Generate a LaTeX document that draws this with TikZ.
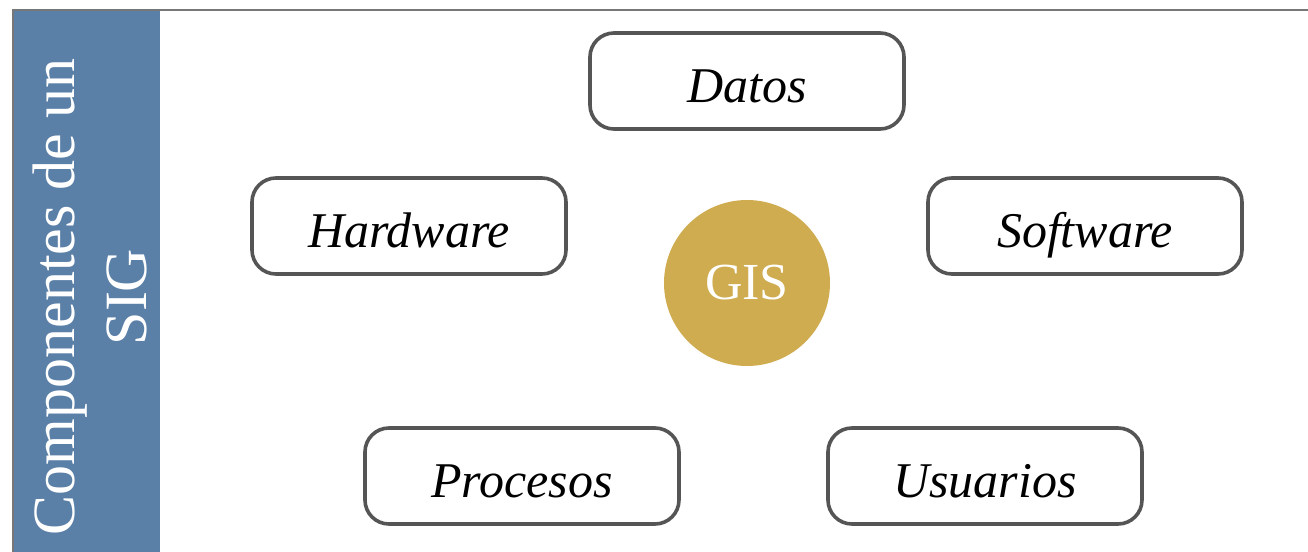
\documentclass[tikz,border=0pt]{standalone}
\usepackage{fontspec}
\setmainfont{Liberation Serif}
\usepackage{xcolor}

\definecolor{barblue}{RGB}{91,128,168}
\definecolor{gisgold}{RGB}{207,172,80}
\definecolor{edgegray}{RGB}{85,85,85}

\begin{document}
\begin{tikzpicture}[x=0.5pt,y=-0.5pt,
  comp/.style={draw=edgegray,line width=1.8pt,rounded corners=12pt,
    minimum width=157pt,minimum height=48pt,fill=white,
    text height=23pt,text depth=2pt,
    font=\fontsize{25}{30}\selectfont\itshape}]
\useasboundingbox (0,0) rectangle (1308,552);

% side bar and frame
\fill[barblue] (14,11) rectangle (160,552);
\draw[edgegray!80,line width=1.2pt] (13,552) -- (13,10) -- (1308,10);
\node[text=white,rotate=90,align=center,font=\fontsize{30}{36}\selectfont] (titulo) at (90,297) {Componentes de un\\SIG};

\node[circle,fill=gisgold,minimum size=83pt,text=white,font=\fontsize{26}{28}\selectfont] (gis) at (747,283) {GIS};

\node[comp] (datos) at (747,81) {Datos};
\node[comp] (hardware) at (409,226) {Hardware};
\node[comp] (software) at (1085,226) {Software};
\node[comp] (procesos) at (522,476) {Procesos};
\node[comp] (usuarios) at (985,476) {Usuarios};
\end{tikzpicture}
\end{document}
